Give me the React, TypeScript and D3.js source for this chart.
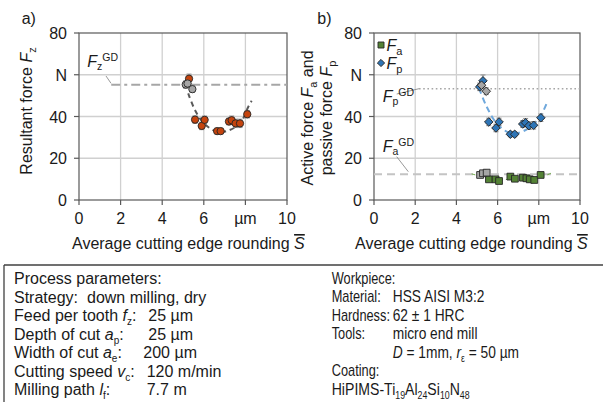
import React from "react";
import * as d3 from "d3";

const xTicks = [0, 2, 4, 6, 8, 10];
const xTickLabels = ["0", "2", "4", "6", "µm", "10"];
const yTicks = [0, 20, 40, 60, 80];
const yTickLabels = ["0", "20", "40", "N", "80"];

// Panel a: resultant force Fz
const fzX = [5.29, 5.58, 5.9, 6.04, 6.64, 6.81, 7.21, 7.34, 7.53, 7.74, 8.09];
const fzY = [58.1, 38.5, 35.5, 38.4, 33.0, 33.0, 37.6, 38.2, 36.7, 36.7, 41.1];
const fzErr = [2.2, 1.8, 1.8, 1.8, 1.4, 1.4, 1.6, 2.0, 2.0, 2.0, 1.8];
const fzGrayX = [5.13, 5.22, 5.45];
const fzGrayY = [55.3, 55.8, 53.1];
const fzGrayErr = [1.8, 1.8, 1.6];
const fzTrendX = [5.25, 5.58, 6.01, 6.62, 7.1, 7.74, 8.14, 8.3];
const fzTrendY = [51.1, 43.0, 36.7, 32.7, 33.0, 36.7, 44.7, 47.5];
const fzGD = 55.2;

// Panel b: passive force Fp
const fpX = [5.13, 5.29, 5.57, 5.92, 6.07, 6.62, 6.83, 7.22, 7.36, 7.52, 7.75, 8.1];
const fpY = [54.2, 57.1, 37.4, 34.5, 37.4, 31.5, 31.5, 36.4, 37.0, 35.6, 35.8, 39.4];
const fpErr = [1.8, 2.8, 1.8, 1.8, 1.8, 1.2, 1.2, 1.6, 2.0, 1.8, 1.8, 1.8];
const fpGrayX = [5.22, 5.45];
const fpGrayY = [55.0, 52.1];
const fpGrayErr = [1.6, 1.6];
const fpTrendX = [5.1, 5.47, 5.96, 6.52, 6.93, 7.49, 8.06, 8.38];
const fpTrendY = [53.5, 44.7, 36.7, 32.4, 32.0, 34.3, 39.9, 46.3];
const fpGD = 53.3;

// Panel b: active force Fa
const faX = [5.58, 5.9, 6.07, 6.62, 6.84, 7.23, 7.4, 7.56, 7.78, 8.09];
const faY = [9.9, 9.9, 9.1, 11.2, 10.2, 10.7, 10.4, 9.9, 9.6, 12.0];
const faErr = [0.8, 0.8, 0.8, 0.8, 0.8, 0.8, 0.8, 0.8, 0.8, 0.8];
const faGrayX = [5.15, 5.29, 5.47];
const faGrayY = [12.0, 12.8, 13.1];
const faGrayErr = [0.8, 0.8, 0.8];
const faTrendX = [4.74, 5.47, 6.12, 6.93, 7.74, 8.63];
const faTrendY = [12.5, 10.7, 9.6, 10.4, 9.9, 13.0];
const faGD = 12.3;

const FONT = "'Liberation Sans', Arial, sans-serif";
const AXIS = "#595959";
const GRID = "#d0d0d0";
const TXT = "#1a1a1a";

type PanelProps = {
  x0: number;
  x1: number;
  children: (x: d3.ScaleLinear<number, number>, y: d3.ScaleLinear<number, number>) => React.ReactNode;
};

const Y0 = 200;
const Y1 = 33;

function Panel({ x0, x1, children }: PanelProps) {
  const x = d3.scaleLinear().domain([0, 10]).range([x0, x1]);
  const y = d3.scaleLinear().domain([0, 80]).range([Y0, Y1]);
  return (
    <g>
      {xTicks.slice(1, -1).map((t) => (
        <line key={"gx" + t} x1={x(t)} x2={x(t)} y1={Y0} y2={Y1} stroke={GRID} strokeWidth={1.3} />
      ))}
      {yTicks.slice(1, -1).map((t) => (
        <line key={"gy" + t} x1={x0} x2={x1} y1={y(t)} y2={y(t)} stroke={GRID} strokeWidth={1.3} />
      ))}
      <rect x={x0} y={Y1} width={x1 - x0} height={Y0 - Y1} fill="none" stroke={AXIS} strokeWidth={1.2} />
      {xTicks.map((t) => (
        <line key={"tx" + t} x1={x(t)} x2={x(t)} y1={Y0} y2={Y0 + 5} stroke={AXIS} strokeWidth={1.2} />
      ))}
      {yTicks.map((t) => (
        <line key={"ty" + t} x1={x0 - 5} x2={x0} y1={y(t)} y2={y(t)} stroke={AXIS} strokeWidth={1.2} />
      ))}
      {xTicks.map((t, i) => (
        <text key={"lx" + t} x={x(t)} y={Y0 + 24} textAnchor="middle" fontSize={16} fill={TXT} fontFamily={FONT}>
          {xTickLabels[i]}
        </text>
      ))}
      {yTicks.map((t, i) => (
        <text key={"ly" + t} x={x0 - 12} y={y(t) + 6} textAnchor="end" fontSize={16} fill={TXT} fontFamily={FONT}>
          {yTickLabels[i]}
        </text>
      ))}
      {children(x, y)}
    </g>
  );
}

function ErrorBars({ xs, ys, es, x, y }: any) {
  return (
    <g stroke="#8c8c8c" strokeWidth={1}>
      {xs.map((v: number, i: number) => (
        <g key={i}>
          <line x1={x(v)} x2={x(v)} y1={y(ys[i] - es[i])} y2={y(ys[i] + es[i])} />
          <line x1={x(v) - 2.5} x2={x(v) + 2.5} y1={y(ys[i] - es[i])} y2={y(ys[i] - es[i])} />
          <line x1={x(v) - 2.5} x2={x(v) + 2.5} y1={y(ys[i] + es[i])} y2={y(ys[i] + es[i])} />
        </g>
      ))}
    </g>
  );
}

function trendPath(xs: number[], ys: number[], x: any, y: any) {
  const pts = xs.map((v, i) => [v, ys[i]] as [number, number]);
  return d3
    .line<[number, number]>()
    .x((d) => x(d[0]))
    .y((d) => y(d[1]))
    .curve(d3.curveCatmullRom.alpha(0.5))(pts) as string;
}

const circle = d3.symbol(d3.symbolCircle, 42)() as string;
const square = d3.symbol(d3.symbolSquare, 46)() as string;
const diamond = d3.symbol(d3.symbolSquare, 36)() as string;

function Markers({ xs, ys, x, y, path, fill, rot = 0 }: any) {
  return (
    <g>
      {xs.map((v: number, i: number) => (
        <path
          key={i}
          d={path}
          transform={`translate(${x(v)},${y(ys[i])}) rotate(${rot})`}
          fill={fill}
          stroke="#262626"
          strokeWidth={0.9}
        />
      ))}
    </g>
  );
}

const sub = (s: string, size = 11) => (
  <tspan fontSize={size} baselineShift={-4}>
    {s}
  </tspan>
);

export default function App() {
  return (
    <svg width={603} height={402} style={{ position: "absolute", left: 0, top: 0 }} fontFamily={FONT}>
      <rect width={603} height={402} fill="#fff" />
      {/* Panel a */}
      <text x={21.7} y={24} fontSize={16} fill={TXT}>a)</text>
      <Panel x0={79} x1={287}>
        {(x, y) => (
          <g>
            <line x1={x(1.55)} x2={x(10)} y1={y(fzGD)} y2={y(fzGD)} stroke="#a6a6a6" strokeWidth={2} strokeDasharray="9,4,3,4" />
            <line x1={106} y1={76} x2={111} y2={83.3} stroke="#7f7f7f" strokeWidth={0.8} />
            <text x={87.3} y={66.5} fontSize={16} fill={TXT}>
              <tspan fontStyle="italic">F</tspan>
              <tspan fontSize={10.5} dy={3.5}>z</tspan>
              <tspan fontSize={10.5} dy={-9}>GD</tspan>
            </text>
            <path d={trendPath(fzTrendX, fzTrendY, x, y)} fill="none" stroke="#595959" strokeWidth={2} strokeDasharray="5,4" />
            <ErrorBars xs={fzGrayX} ys={fzGrayY} es={fzGrayErr} x={x} y={y} />
            <ErrorBars xs={fzX} ys={fzY} es={fzErr} x={x} y={y} />
            <Markers xs={fzX} ys={fzY} x={x} y={y} path={circle} fill="#c5440e" />
            <Markers xs={fzGrayX} ys={fzGrayY} x={x} y={y} path={circle} fill="#a6a6a6" />
          </g>
        )}
      </Panel>
      <text transform="translate(32,111) rotate(-90)" textAnchor="middle" fontSize={16} fill={TXT}>
        Resultant force <tspan fontStyle="italic">F</tspan>
        {sub("z")}
      </text>
      <text x={72} y={249} fontSize={16} fill={TXT}>
        Average cutting edge rounding <tspan fontStyle="italic" textDecoration="overline">S</tspan>
      </text>

      {/* Panel b */}
      <text x={317.3} y={24} fontSize={16} fill={TXT}>b)</text>
      <Panel x0={374} x1={580}>
        {(x, y) => (
          <g>
            <line x1={419} x2={x(10)} y1={y(fpGD)} y2={y(fpGD)} stroke="#a6a6a6" strokeWidth={1.6} strokeDasharray="1.6,2.6" />
            <line x1={x(0)} x2={x(10)} y1={y(faGD)} y2={y(faGD)} stroke="#c4c4c4" strokeWidth={2} strokeDasharray="8,5" />
            <line x1={396.7} y1={94} x2={419} y2={88.7} stroke="#7f7f7f" strokeWidth={0.8} />
            <line x1={396.7} y1={156.7} x2={408.3} y2={171.7} stroke="#7f7f7f" strokeWidth={0.8} />
            <text x={382.7} y={101.7} fontSize={16} fill={TXT}>
              <tspan fontStyle="italic">F</tspan>
              <tspan fontSize={10.5} dy={3.5}>p</tspan>
              <tspan fontSize={10.5} dy={-9}>GD</tspan>
            </text>
            <text x={382.7} y={151.7} fontSize={16} fill={TXT}>
              <tspan fontStyle="italic">F</tspan>
              <tspan fontSize={10.5} dy={3.5}>a</tspan>
              <tspan fontSize={10.5} dy={-9}>GD</tspan>
            </text>
            <path d={trendPath(faTrendX, faTrendY, x, y)} fill="none" stroke="#70ad47" strokeWidth={1} strokeDasharray="4,3" />
            <path d={trendPath(fpTrendX, fpTrendY, x, y)} fill="none" stroke="#6fa8dc" strokeWidth={2} strokeDasharray="6,4" />
            <ErrorBars xs={fpGrayX} ys={fpGrayY} es={fpGrayErr} x={x} y={y} />
            <ErrorBars xs={fpX} ys={fpY} es={fpErr} x={x} y={y} />
            <ErrorBars xs={faGrayX} ys={faGrayY} es={faGrayErr} x={x} y={y} />
            <ErrorBars xs={faX} ys={faY} es={faErr} x={x} y={y} />
            <Markers xs={fpX} ys={fpY} x={x} y={y} path={diamond} fill="#2e75b6" rot={45} />
            <Markers xs={fpGrayX} ys={fpGrayY} x={x} y={y} path={diamond} fill="#a6a6a6" rot={45} />
            <Markers xs={faX} ys={faY} x={x} y={y} path={square} fill="#548235" />
            <Markers xs={faGrayX} ys={faGrayY} x={x} y={y} path={square} fill="#a6a6a6" />
            {/* legend */}
            <path d={d3.symbol(d3.symbolSquare, 36)() as string} transform="translate(381,45)" fill="#548235" stroke="#262626" strokeWidth={0.9} />
            <path d={d3.symbol(d3.symbolSquare, 26)() as string} transform="translate(381,63) rotate(45)" fill="#2e75b6" stroke="#262626" strokeWidth={0.9} />
            <text x={386.5} y={50.5} fontSize={16} fill={TXT}>
              <tspan fontStyle="italic">F</tspan>
              {sub("a")}
            </text>
            <text x={386.5} y={68.5} fontSize={16} fill={TXT}>
              <tspan fontStyle="italic">F</tspan>
              {sub("p")}
            </text>
          </g>
        )}
      </Panel>
      <text transform="translate(312.5,118) rotate(-90)" textAnchor="middle" fontSize={16} fill={TXT}>
        Active force <tspan fontStyle="italic">F</tspan>
        {sub("a")} and
      </text>
      <text transform="translate(332,118) rotate(-90)" textAnchor="middle" fontSize={16} fill={TXT}>
        passive force <tspan fontStyle="italic">F</tspan>
        {sub("p")}
      </text>
      <text x={355} y={249} fontSize={16} fill={TXT}>
        Average cutting edge rounding <tspan fontStyle="italic" textDecoration="overline">S</tspan>
      </text>

      {/* Parameter box */}
      <line x1={4} x2={603} y1={265} y2={265} stroke="#404040" strokeWidth={1.3} />
      <line x1={4} x2={4} y1={265} y2={402} stroke="#404040" strokeWidth={1.3} />
      <g fontSize={16} fill={TXT}>
        <text x={14} y={284}>Process parameters:</text>
        <text x={14} y={302.5}>Strategy:</text>
        <text x={87} y={302.5}>down milling, dry</text>
        <text x={14} y={321}>
          Feed per tooth <tspan fontStyle="italic">f</tspan>
          {sub("z", 10)}:
        </text>
        <text x={148.3} y={321}>25 µm</text>
        <text x={14} y={339.5}>
          Depth of cut <tspan fontStyle="italic">a</tspan>
          {sub("p", 10)}:
        </text>
        <text x={148.3} y={339.5}>25 µm</text>
        <text x={14} y={358}>
          Width of cut <tspan fontStyle="italic">a</tspan>
          {sub("e", 10)}:
        </text>
        <text x={143.3} y={358}>200 µm</text>
        <text x={14} y={376.5}>
          Cutting speed <tspan fontStyle="italic">v</tspan>
          {sub("c", 10)}:
        </text>
        <text x={146.7} y={376.5}>120 m/min</text>
        <text x={14} y={395}>
          Milling path <tspan fontStyle="italic">l</tspan>
          {sub("f", 10)}:
        </text>
        <text x={146.7} y={395}>7.7 m</text>
      </g>
      <g fontSize={16} fill={TXT} transform="translate(331.7,0) scale(0.8,1)">
        <text x={0} y={284}>Workpiece:</text>
        <text x={0} y={302.5}>Material:</text>
        <text x={0} y={321}>Hardness:</text>
        <text x={0} y={339.5}>Tools:</text>
        <text x={0} y={376.5}>Coating:</text>
      </g>
      <g fontSize={16} fill={TXT} transform="translate(331.7,0) scale(0.88,1)">
        <text x={0} y={395}>
          HiPIMS-Ti{sub("19", 10)}Al{sub("24", 10)}Si{sub("10", 10)}N{sub("48", 10)}
        </text>
      </g>
      <g fontSize={16} fill={TXT} transform="translate(392.7,0) scale(0.86,1)">
        <text x={0} y={302.5}>HSS AISI M3:2</text>
        <text x={0} y={321}>62 ± 1 HRC</text>
        <text x={0} y={339.5}>micro end mill</text>
        <text x={0} y={358}>
          <tspan fontStyle="italic">D</tspan> = 1mm, <tspan fontStyle="italic">r</tspan>
          {sub("ε", 10)} = 50 µm
        </text>
      </g>
    </svg>
  );
}
